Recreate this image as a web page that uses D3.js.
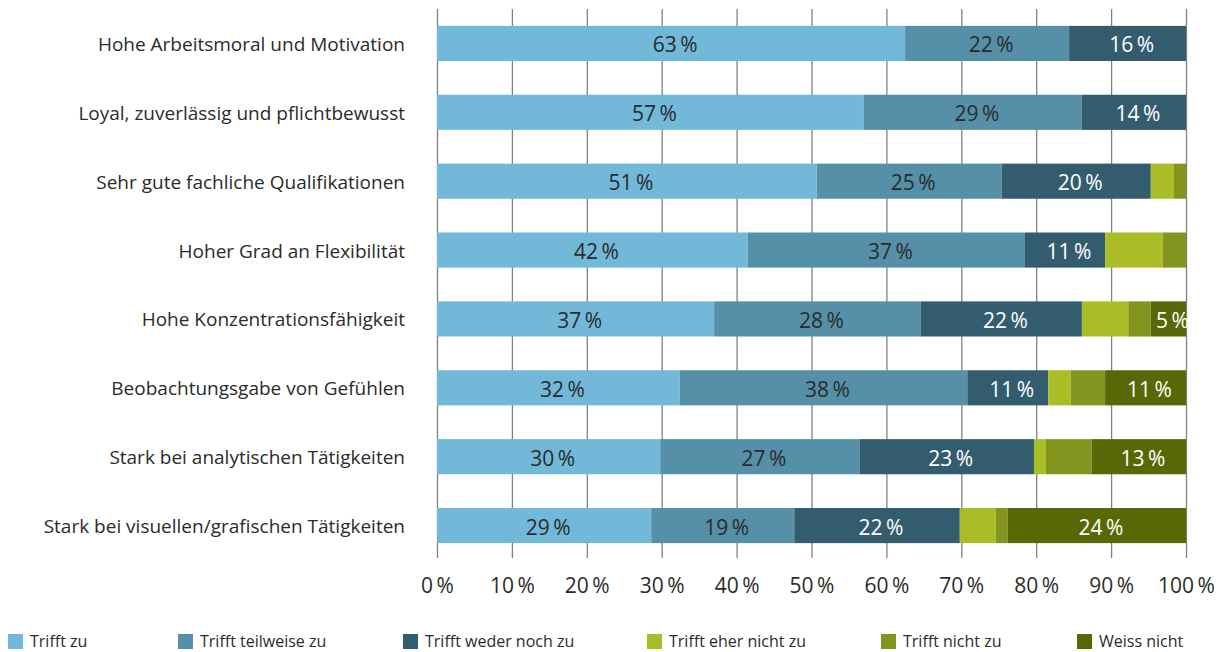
<!DOCTYPE html>
<html>
<head>
<meta charset="utf-8">
<script src="https://cdn.jsdelivr.net/npm/d3@7"></script>
<style>
  body { margin: 0; background: #fff; }
  svg { display: block; }
</style>
</head>
<body>
<svg id="chart" width="1230" height="652"></svg>
<script>
const categories = [
  "Hohe Arbeitsmoral und Motivation",
  "Loyal, zuverlässig und pflichtbewusst",
  "Sehr gute fachliche Qualifikationen",
  "Hoher Grad an Flexibilität",
  "Hohe Konzentrationsfähigkeit",
  "Beobachtungsgabe von Gefühlen",
  "Stark bei analytischen Tätigkeiten",
  "Stark bei visuellen/grafischen Tätigkeiten"
];

const seriesNames = [
  "Trifft zu",
  "Trifft teilweise zu",
  "Trifft weder noch zu",
  "Trifft eher nicht zu",
  "Trifft nicht zu",
  "Weiss nicht"
];

const trifftZu     = [62.5, 57.0, 50.7, 41.5, 37.0, 32.4, 29.8, 28.6];
const teilweise    = [21.9, 29.1, 24.7, 37.0, 27.6, 38.4, 26.6, 19.1];
const wederNoch    = [15.6, 13.9, 19.9, 10.7, 21.5, 10.8, 23.3, 22.1];
const eherNicht    = [0,    0,    3.1,  7.7,  6.2,  3.0,  1.6,  4.8];
const nichtZu      = [0,    0,    1.6,  3.1,  3.0,  4.6,  6.1,  1.6];
const weissNicht   = [0,    0,    0,    0,    4.7,  10.8, 12.6, 23.8];

const xTicks = [0, 10, 20, 30, 40, 50, 60, 70, 80, 90, 100];

const colors = ["#72b8d8", "#5590a8", "#335c6e", "#aabd27", "#83951e", "#586806"];
const labelColors = ["#2b2b2b", "#2b2b2b", "#ffffff", null, null, "#ffffff"];

const allSeries = [trifftZu, teilweise, wederNoch, eherNicht, nichtZu, weissNicht];
const table = categories.map((c, i) => {
  const row = { category: c };
  seriesNames.forEach((s, j) => row[s] = allSeries[j][i]);
  return row;
});

const pct = v => `${Math.round(v)}\u2009%`;
const font = "'Open Sans', 'Noto Sans', sans-serif";

const svg = d3.select("#chart");

const x = d3.scaleLinear().domain([0, 100]).range([437, 1186]);
const y = d3.scaleBand()
  .domain(categories)
  .range([9, 560])
  .paddingInner(0.49)
  .paddingOuter(0.245);

const stacked = d3.stack().keys(seriesNames)(table);

// grid + tick labels
const axis = svg.append("g")
  .attr("transform", "translate(0,558)")
  .call(d3.axisBottom(x)
    .tickValues(xTicks)
    .tickSizeInner(-549)
    .tickSizeOuter(0)
    .tickPadding(20)
    .tickFormat(d => `${d}\u2009%`));

axis.select(".domain").remove();
axis.selectAll(".tick line")
  .attr("stroke", "#808080")
  .attr("stroke-width", 1.3);
axis.selectAll(".tick text")
  .attr("font-family", font)
  .attr("font-size", "21px")
  .attr("fill", "#2b2b2b");

// bars
const layer = svg.append("g")
  .selectAll("g")
  .data(stacked)
  .join("g")
  .attr("fill", (d, i) => colors[i]);

layer.selectAll("rect")
  .data(d => d.filter(p => p[1] - p[0] > 0))
  .join("rect")
  .attr("x", d => x(d[0]))
  .attr("y", d => y(d.data.category))
  .attr("width", d => x(d[1]) - x(d[0]))
  .attr("height", y.bandwidth());

// value labels
stacked.forEach((s, i) => {
  if (!labelColors[i]) return;
  svg.append("g")
    .selectAll("text")
    .data(s.filter(p => p[1] - p[0] > 0))
    .join("text")
    .attr("x", d => x((d[0] + d[1]) / 2) + 4)
    .attr("y", d => y(d.data.category) + y.bandwidth() / 2 + 9)
    .attr("text-anchor", "middle")
    .attr("font-family", font)
    .attr("font-size", "21px")
    .attr("fill", labelColors[i])
    .text(d => pct(d[1] - d[0]));
});

// category labels
svg.append("g")
  .selectAll("text")
  .data(categories)
  .join("text")
  .attr("x", 405)
  .attr("y", d => y(d) + y.bandwidth() / 2 + 7.5)
  .attr("text-anchor", "end")
  .attr("font-family", font)
  .attr("font-size", "19px")
  .attr("fill", "#2b2b2b")
  .text(d => d);

// legend, slots spread along the bottom edge
const legendX = [8, 178, 403, 647, 881, 1077];
const legend = svg.append("g")
  .selectAll("g")
  .data(seriesNames)
  .join("g")
  .attr("transform", (d, i) => `translate(${legendX[i]},634)`);

legend.append("rect")
  .attr("width", 15)
  .attr("height", 15)
  .attr("fill", (d, i) => colors[i]);

legend.append("text")
  .attr("x", 22)
  .attr("y", 12.5)
  .attr("font-family", font)
  .attr("font-size", "16px")
  .attr("fill", "#2b2b2b")
  .text(d => d);
</script>
</body>
</html>
